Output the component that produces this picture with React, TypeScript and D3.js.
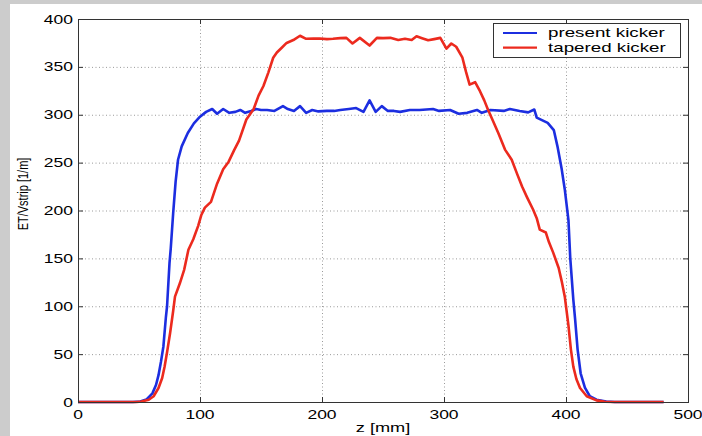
import React, { useEffect, useRef } from 'react';
import * as d3 from 'd3';

// present kicker (blue)
const presentZ = [0, 45, 51, 56, 61, 64, 66, 68, 70, 72, 73, 75, 76, 78, 80, 82, 85, 90, 95, 100, 105, 110, 114, 119, 124, 129, 133, 137, 142, 146, 150, 155, 161, 168, 172, 177, 182, 187, 192, 197, 204, 210, 215, 222, 228, 234, 239, 244, 249, 254, 259, 264, 272, 280, 291, 296, 305, 312, 319, 327, 331, 338, 349, 354, 362, 369, 374, 376, 385, 390, 393, 396.5, 399, 402, 403.5, 406, 407.5, 409.5, 412, 415.5, 419.5, 425, 433, 440, 480];
const presentV = [0, 0, 0.6, 2.5, 9, 18, 28, 42, 58, 88, 100, 145, 160, 197, 230, 253, 267, 281, 291, 298, 303, 306, 301, 306, 302, 303, 305, 302, 304, 306, 305, 305, 304, 309, 306, 304, 309, 302, 305, 303.5, 304, 304, 305, 306, 307, 303, 315, 303, 309, 304, 304, 303, 305, 305, 306, 304, 305, 301, 302, 305, 302, 305, 304, 306, 304, 302.5, 305.5, 297, 291.5, 284, 267, 243, 222, 190, 150, 107, 86, 55, 30, 15, 6, 2.4, 0.6, 0, 0];

// tapered kicker (red)
const taperedZ = [0, 48, 52, 58, 62, 66, 69, 71, 73, 75.5, 78, 79.5, 83.5, 87, 90.5, 94.5, 98.5, 101, 104, 109, 114, 119, 123.5, 128, 132, 138, 144, 148, 152, 156, 160, 163, 167, 171, 176.5, 182, 187, 193, 198, 204, 209, 215, 220, 225, 231, 239, 245, 250, 256, 262.5, 268, 273.5, 277.5, 282, 287, 292, 297, 302, 306, 310, 315, 318, 321, 325.5, 329.5, 333, 336, 340, 344.5, 350, 355.5, 360, 364, 368, 373, 376, 378.5, 383.5, 386, 389.5, 394, 396.5, 399, 402, 404, 406, 408.5, 411.5, 417, 425, 432, 440, 480];
const taperedV = [0, 0, 0.5, 2.4, 6, 14.6, 25, 37, 52, 72, 95, 110, 124, 138, 159, 170, 184, 195, 203, 209, 228, 243, 251, 263, 273, 295, 306, 320, 330, 344, 359.5, 365, 370, 375, 378, 382.5, 379.3, 379.5, 379.6, 379, 379.3, 380, 380.3, 374.4, 380.3, 372.3, 380.3, 380, 380.3, 378, 379.3, 378, 382, 380, 377.8, 379, 380.3, 369, 374.4, 371, 360, 345, 331.5, 334, 324.6, 315, 305.4, 294, 281, 263.6, 253, 238, 225, 214, 201, 192, 180, 177, 167, 156, 140, 126, 110, 80, 55, 37, 24, 14.6, 6, 1.7, 0.3, 0, 0];

const seriesNames = ['present kicker', 'tapered kicker'];
const seriesColors = ['#1c2ee0', '#ec2a1e'];
const xTicks = [0, 100, 200, 300, 400, 500];
const yTicks = [0, 50, 100, 150, 200, 250, 300, 350, 400];

const W = 702;
const H = 436;
const SX = 1.4; // the picture is stretched horizontally

const App = () => {
  const ref = useRef<SVGSVGElement>(null);

  useEffect(() => {
    const svg = d3.select(ref.current);
    svg.selectAll('*').remove();

    const left = 78, right = 688, top = 19, bottom = 402;
    const x = d3.scaleLinear().domain([0, 500]).range([left, right]);
    const y = d3.scaleLinear().domain([0, 400]).range([bottom, top]);
    const font = '"Liberation Sans", Arial, Helvetica, sans-serif';

    // figure background
    svg.append('rect').attr('width', W).attr('height', H).attr('fill', '#cccccc');
    svg.append('rect').attr('x', 10).attr('y', 4).attr('width', W - 10).attr('height', H - 4).attr('fill', '#ffffff');

    // grid
    const grid = svg.append('g')
      .attr('stroke', '#9a9a9a')
      .attr('stroke-width', 1)
      .attr('stroke-dasharray', '1,2.5');
    grid.selectAll('line.gx')
      .data(xTicks.slice(1, -1))
      .enter()
      .append('line')
      .attr('x1', d => x(d) + 0.5).attr('x2', d => x(d) + 0.5)
      .attr('y1', top).attr('y2', bottom);
    grid.selectAll('line.gy')
      .data(yTicks.slice(1, -1))
      .enter()
      .append('line')
      .attr('y1', d => y(d) + 0.5).attr('y2', d => y(d) + 0.5)
      .attr('x1', left).attr('x2', right);

    // lines
    const series = [
      presentZ.map((z, i) => [z, presentV[i]] as [number, number]),
      taperedZ.map((z, i) => [z, taperedV[i]] as [number, number]),
    ];
    const line = d3.line<[number, number]>().x(d => x(d[0])).y(d => y(d[1]));
    series.forEach((s, i) => {
      svg.append('path')
        .attr('d', line(s))
        .attr('fill', 'none')
        .attr('stroke', seriesColors[i])
        .attr('stroke-width', 2.6)
        .attr('stroke-linejoin', 'round');
    });

    // box and ticks
    const axis = svg.append('g').attr('stroke', '#333').attr('stroke-width', 1);
    axis.append('rect')
      .attr('x', left + 0.5).attr('y', top + 0.5)
      .attr('width', right - left).attr('height', bottom - top)
      .attr('fill', 'none');
    xTicks.forEach(t => {
      axis.append('line').attr('x1', x(t) + 0.5).attr('x2', x(t) + 0.5).attr('y1', bottom).attr('y2', bottom - 5);
      axis.append('line').attr('x1', x(t) + 0.5).attr('x2', x(t) + 0.5).attr('y1', top).attr('y2', top + 5);
    });
    yTicks.forEach(t => {
      axis.append('line').attr('y1', y(t) + 0.5).attr('y2', y(t) + 0.5).attr('x1', left).attr('x2', left + 5);
      axis.append('line').attr('y1', y(t) + 0.5).attr('y2', y(t) + 0.5).attr('x1', right - 5).attr('x2', right);
    });

    // tick labels
    xTicks.forEach(t => {
      svg.append('text')
        .attr('transform', `translate(${x(t)},${bottom + 17}) scale(${SX},1)`)
        .attr('text-anchor', 'middle')
        .attr('font-family', font)
        .attr('font-size', 12.5)
        .attr('fill', '#000')
        .text(t);
    });
    yTicks.forEach(t => {
      svg.append('text')
        .attr('transform', `translate(${left - 5},${y(t) + 4.5}) scale(${SX},1)`)
        .attr('text-anchor', 'end')
        .attr('font-family', font)
        .attr('font-size', 12.5)
        .attr('fill', '#000')
        .text(t);
    });

    // axis labels
    svg.append('text')
      .attr('transform', `translate(${(left + right) / 2},${432}) scale(${SX},1)`)
      .attr('text-anchor', 'middle')
      .attr('font-family', font)
      .attr('font-size', 13)
      .text('z [mm]');
    svg.append('text')
      .attr('transform', `translate(${28},${194}) scale(${SX},1) rotate(-90)`)
      .attr('text-anchor', 'middle')
      .attr('font-family', font)
      .attr('font-size', 11)
      .text('ET/Vstrip [1/m]');

    // legend
    const lg = svg.append('g');
    lg.append('rect')
      .attr('x', 493.5).attr('y', 23.5).attr('width', 187).attr('height', 34)
      .attr('fill', '#fff').attr('stroke', '#333').attr('stroke-width', 1);
    seriesNames.forEach((name, i) => {
      const ly = 33 + i * 14.7;
      lg.append('line')
        .attr('x1', 503).attr('x2', 537).attr('y1', ly).attr('y2', ly)
        .attr('stroke', seriesColors[i]).attr('stroke-width', 2.2);
      lg.append('text')
        .attr('transform', `translate(548,${ly + 4.3}) scale(${SX},1)`)
        .attr('font-family', font)
        .attr('font-size', 13.4)
        .text(name);
    });
  }, []);

  return (
    <div style={{ position: 'fixed', left: 0, top: 0 }}>
      <svg ref={ref} width={W} height={H} style={{ display: 'block' }} />
    </div>
  );
};

export default App;
